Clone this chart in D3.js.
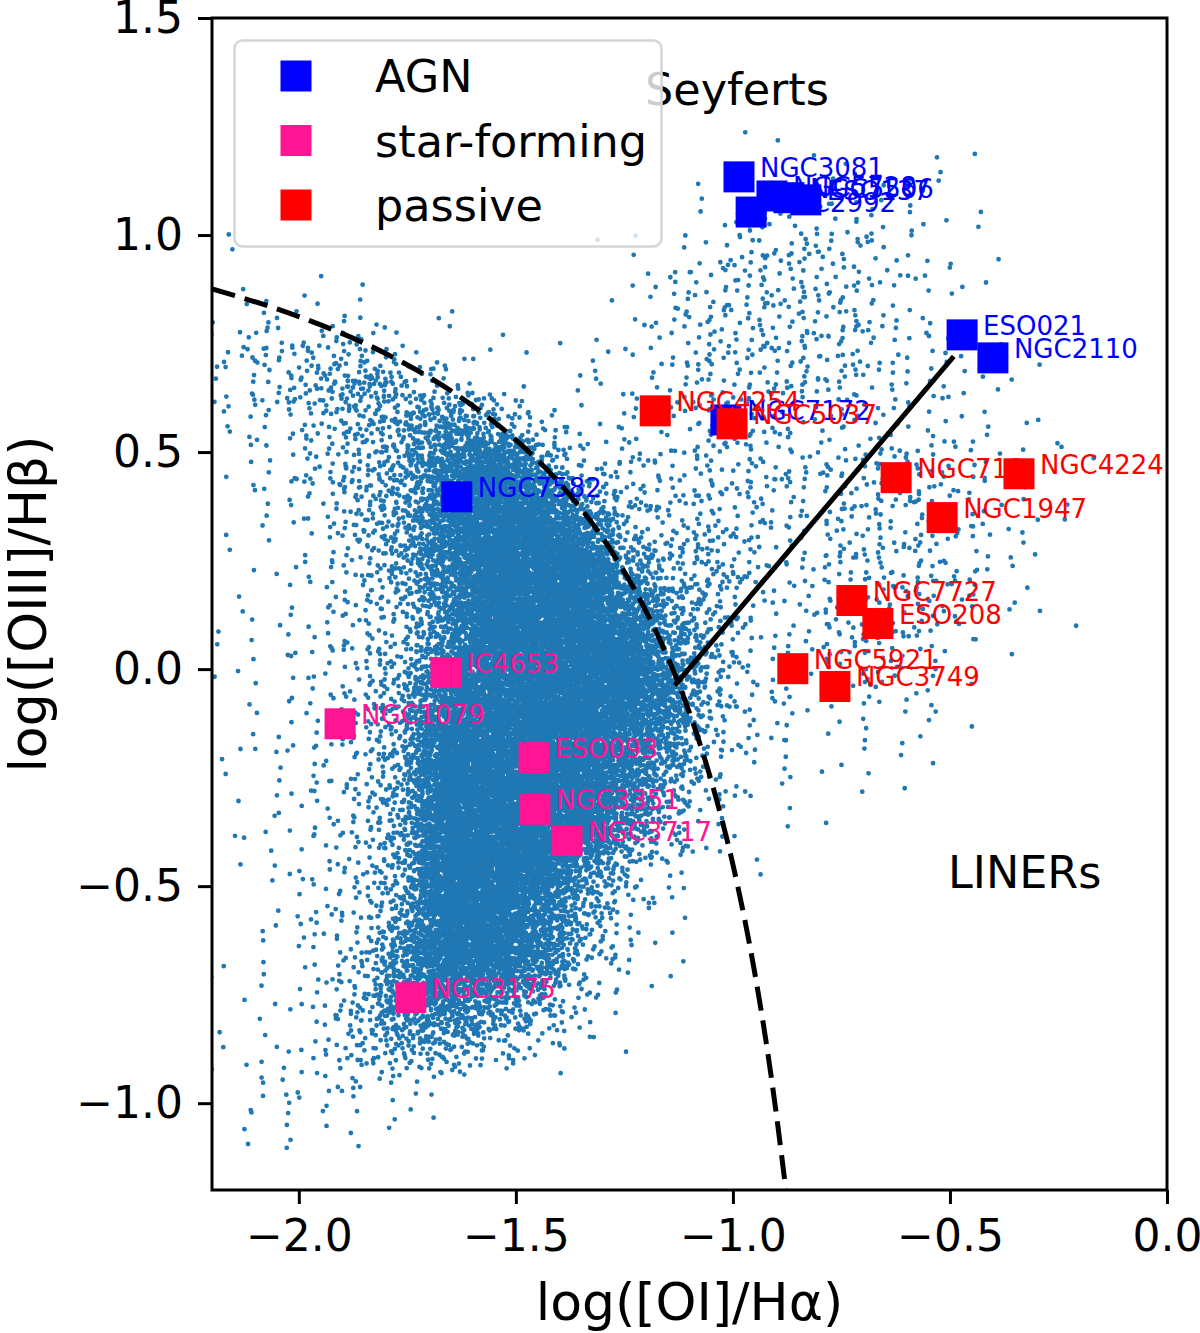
<!DOCTYPE html>
<html>
<head>
<meta charset="utf-8">
<script src="https://d3js.org/d3.v7.min.js"></script>
<style>
  body { margin: 0; background: #fff; }
  svg text { font-family: "DejaVu Sans", sans-serif; }
</style>
</head>
<body>
<svg id="bpt" width="1200" height="1333"></svg>
<script>
// ---- axes ----
const xDomain = [-2.2, 0];
const yDomain = [-1.2, 1.5];
const xTicks = [-2.0, -1.5, -1.0, -0.5, 0.0];
const yTicks = [-1.0, -0.5, 0.0, 0.5, 1.0, 1.5];

// ---- LLAMA galaxies ----
const agnNames = ["NGC3081", "NGC2992", "NGC5728", "NGC5506", "ESO137", "NGC7172", "ESO021", "NGC2110", "NGC7582"];
const agnX = [-0.986, -0.958, -0.910, -0.871, -0.832, -1.016, -0.472, -0.401, -1.636];
const agnY = [1.134, 1.053, 1.090, 1.086, 1.081, 0.574, 0.770, 0.717, 0.397];

const sfNames = ["IC4653", "NGC1079", "ESO093", "NGC3351", "NGC3717", "NGC3175"];
const sfX = [-1.661, -1.905, -1.458, -1.456, -1.382, -1.742];
const sfY = [-0.008, -0.126, -0.204, -0.323, -0.395, -0.757];

const passiveNames = ["NGC4254", "NGC5037", "NGC718", "NGC4224", "NGC1947", "NGC7727", "ESO208", "NGC5921", "NGC3749"];
const passiveX = [-1.179, -1.002, -0.624, -0.341, -0.518, -0.726, -0.666, -0.862, -0.765];
const passiveY = [0.595, 0.565, 0.441, 0.450, 0.349, 0.158, 0.105, 0.001, -0.040];

// ---- demarcation lines ----
const maxStarburstX = [-2.2, -2.0, -1.8, -1.6, -1.5, -1.4, -1.3, -1.2, -1.13, -1.1, -1.05, -1.0, -0.95, -0.92, -0.9, -0.878];
const maxStarburstY = [0.876, 0.812, 0.727, 0.607, 0.528, 0.429, 0.302, 0.133, -0.021, -0.101, -0.257, -0.450, -0.698, -0.882, -1.025, -1.2];
const seyLinerX = [-1.13, -0.495];
const seyLinerY = [-0.033, 0.716];

// ---- background sample: counts per 0.1 x 0.1 dex bin, coded 0-9 ----
// row 0 is the top bin (1.4..1.5), column 0 is the left bin (-2.2..-2.1)
const cloudDensity = [
  "0000000000000000000000",
  "0000000000000000000000",
  "0000000000000000000000",
  "0000000000001111110000",
  "0000000000023333210000",
  "1000000001134443210000",
  "2111000002344443210000",
  "3444211012344443321000",
  "3456542123344443321000",
  "2345676423344333322100",
  "1345689744444444432100",
  "1235689975444344432100",
  "1234689996554344432000",
  "1234579998653344431100",
  "2234579999753344320000",
  "1234689999853333210000",
  "1234699998743222100000",
  "1234699998642211000000",
  "1234699997531100000000",
  "1234699975311000000000",
  "0234699864200000000000",
  "1234799853100000000000",
  "1235787641000000000000",
  "1235665411000000000000",
  "1333321000000000000000",
  "1221100000000000000000",
  "0000000000000000000000"
];
const levelCounts = [0, 2, 4, 9, 19, 40, 80, 160, 270, 520];
const binSize = 0.1;

const legendLabels = ["AGN", "star-forming", "passive"];
const legendColors = ["#0000ff", "#ff1493", "#ff0000"];

// ---- layout ----
const svg = d3.select("#bpt");
const plot = { left: 212, right: 1167, top: 18, bottom: 1190 };

const x = d3.scaleLinear().domain(xDomain).range([plot.left, plot.right]);
const y = d3.scaleLinear().domain(yDomain).range([plot.bottom, plot.top]);

svg.append("defs").append("clipPath").attr("id", "plotClip")
  .append("rect")
  .attr("x", plot.left).attr("y", plot.top)
  .attr("width", plot.right - plot.left).attr("height", plot.bottom - plot.top);

// halton sequence: a fixed, evenly spread layout of the dots of a bin
function halton(i, b) {
  let f = 1, r = 0;
  while (i > 0) { f /= b; r += f * (i % b); i = Math.floor(i / b); }
  return r;
}

// each bin spreads its dots with a tent profile one bin wide on each side,
// so that neighbouring bins blend without seams
const dotR = 2.4;
const dots = d3.path();
cloudDensity.forEach((row, r) => {
  row.split("").forEach((ch, c) => {
    const n = levelCounts[+ch];
    const start = (r * 22 + c) * 1031 + 11;
    for (let j = 0; j < n; j++) {
      const k = start + j;
      const u = 0.5 + halton(k, 2) + halton(k, 3) - 1;
      const v = 0.5 + halton(k, 5) + halton(k, 7) - 1;
      const px = x(xDomain[0] + (c + u) * binSize);
      const py = y(yDomain[1] - (r + v) * binSize);
      dots.moveTo(px + dotR, py);
      dots.arc(px, py, dotR, 0, 2 * Math.PI);
    }
  });
});

svg.append("path")
  .attr("clip-path", "url(#plotClip)")
  .attr("d", dots.toString())
  .attr("fill", "#1f77b4");

// ---- galaxies, square then label, one at a time ----
const sq = 31;
function drawGroup(names, xs, ys, color) {
  const g = svg.append("g");
  names.forEach((name, i) => {
    g.append("rect")
      .attr("x", x(xs[i]) - sq / 2)
      .attr("y", y(ys[i]) - sq / 2)
      .attr("width", sq)
      .attr("height", sq)
      .attr("fill", color);
    g.append("text")
      .attr("x", x(xs[i]) + 21)
      .attr("y", y(ys[i]))
      .attr("font-size", 26)
      .attr("fill", color)
      .text(name);
  });
}
drawGroup(agnNames, agnX, agnY, legendColors[0]);
drawGroup(sfNames, sfX, sfY, legendColors[1]);
drawGroup(passiveNames, passiveX, passiveY, legendColors[2]);

// ---- lines ----
svg.append("path")
  .datum(d3.zip(maxStarburstX, maxStarburstY))
  .attr("d", d3.line().x(d => x(d[0])).y(d => y(d[1])).curve(d3.curveMonotoneX))
  .attr("fill", "none")
  .attr("stroke", "#000")
  .attr("stroke-width", 5)
  .attr("stroke-dasharray", "24,10")
  .attr("clip-path", "url(#plotClip)");

svg.append("path")
  .datum(d3.zip(seyLinerX, seyLinerY))
  .attr("d", d3.line().x(d => x(d[0])).y(d => y(d[1])))
  .attr("fill", "none")
  .attr("stroke", "#000")
  .attr("stroke-width", 5)
  .attr("stroke-linecap", "square");

// ---- region names ----
svg.append("text")
  .attr("x", 645).attr("y", 105)
  .attr("font-size", 44.5)
  .text("Seyferts");
svg.append("text")
  .attr("x", 948).attr("y", 888)
  .attr("font-size", 44.5)
  .text("LINERs");

// ---- frame and axes ----
svg.append("rect")
  .attr("x", plot.left).attr("y", plot.top)
  .attr("width", plot.right - plot.left).attr("height", plot.bottom - plot.top)
  .attr("fill", "none")
  .attr("stroke", "#000")
  .attr("stroke-width", 3);

const xAxis = svg.append("g")
  .attr("transform", `translate(0,${plot.bottom})`)
  .call(d3.axisBottom(x).tickValues(xTicks).tickFormat(d3.format(".1f"))
    .tickSizeInner(14).tickSizeOuter(0).tickPadding(16));
const yAxis = svg.append("g")
  .attr("transform", `translate(${plot.left},0)`)
  .call(d3.axisLeft(y).tickValues(yTicks).tickFormat(d3.format(".1f"))
    .tickSizeInner(14).tickSizeOuter(0).tickPadding(15));

[xAxis, yAxis].forEach(a => {
  a.select(".domain").remove();
  a.selectAll(".tick line").attr("stroke", "#000").attr("stroke-width", 3);
  a.selectAll(".tick text")
    .attr("font-size", 44)
    .attr("font-family", "DejaVu Sans, sans-serif")
    .attr("fill", "#000");
});

svg.append("text")
  .attr("x", (plot.left + plot.right) / 2)
  .attr("y", 1320)
  .attr("text-anchor", "middle")
  .attr("font-size", 52)
  .text("log([OI]/Hα)");

svg.append("text")
  .attr("transform", `translate(46,${(plot.top + plot.bottom) / 2}) rotate(-90)`)
  .attr("text-anchor", "middle")
  .attr("font-size", 52)
  .text("log([OIII]/Hβ)");

// ---- legend ----
const legend = svg.append("g");
legend.append("rect")
  .attr("x", 234.5).attr("y", 40.5)
  .attr("width", 427).attr("height", 206)
  .attr("rx", 8)
  .attr("fill", "#fff")
  .attr("fill-opacity", 0.8)
  .attr("stroke", "#d5d5d5")
  .attr("stroke-width", 2.5);

legendLabels.forEach((lab, i) => {
  const cy = 76 + i * 64.5;
  legend.append("rect")
    .attr("x", 296 - sq / 2).attr("y", cy - sq / 2)
    .attr("width", sq).attr("height", sq)
    .attr("fill", legendColors[i]);
  legend.append("text")
    .attr("x", 375).attr("y", cy + 16)
    .attr("font-size", 44.5)
    .text(lab);
});
</script>
</body>
</html>
